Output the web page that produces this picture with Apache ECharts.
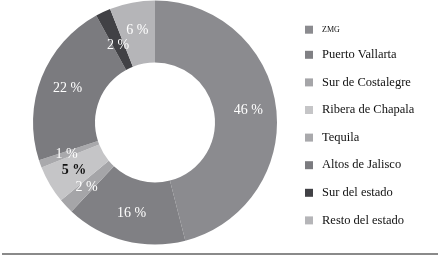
<!DOCTYPE html>
<html>
<head>
<meta charset="utf-8">
<script src="https://cdn.jsdelivr.net/npm/echarts@6/dist/echarts.min.js"></script>
<style>
html,body{margin:0;padding:0;background:#fff;}
#chart{width:440px;height:257px;}
</style>
</head>
<body>
<div id="chart"></div>
<script>
const categories = ['ZMG','Puerto Vallarta','Sur de Costalegre','Ribera de Chapala','Tequila','Altos de Jalisco','Sur del estado','Resto del estado'];
const values = [46, 16, 2, 5, 1, 22, 2, 6];
const colors = ['#8b8b8f','#808084','#a5a5a8','#c5c5c7','#a9a9ac','#7b7b7f','#414145','#b5b5b8'];

const FONT = '"Liberation Serif", "DejaVu Serif", serif';
const data = categories.map((name, i) => {
  const item = { name: name, value: values[i], itemStyle: { color: colors[i] } };
  if (name === 'Ribera de Chapala') {
    item.label = { color: '#111', fontWeight: 'bold' };
  }
  if (name === 'Sur del estado') {
    item.label = { offset: [3, 8] };
  }
  return item;
});

const chart = echarts.init(document.getElementById('chart'), null, { renderer: 'canvas' });
chart.setOption({
  animation: false,
  backgroundColor: '#fff',
  legend: {
    orient: 'vertical',
    left: 300,
    top: 20.7,
    itemWidth: 8,
    itemHeight: 8,
    itemGap: 14.6,
    icon: 'rect',
    selectedMode: false,
    data: categories,
    formatter: function (n) { return n === 'ZMG' ? '{s|ZMG}' : '{n|' + n + '}'; },
    textStyle: {
      fontFamily: FONT,
      color: '#111',
      padding: [0, 0, 0, 4],
      rich: {
        s: { fontFamily: FONT, fontSize: 8, lineHeight: 12, color: '#111' },
        n: { fontFamily: FONT, fontSize: 12.5, lineHeight: 12, color: '#111' }
      }
    }
  },
  graphic: [{
    type: 'line',
    shape: { x1: 2, y1: 254, x2: 438, y2: 254 },
    style: { stroke: '#8a8a8a', lineWidth: 2 },
    silent: true
  }],
  series: [{
    type: 'pie',
    center: [155, 122.5],
    radius: [60, 122],
    startAngle: 90,
    clockwise: true,
    silent: true,
    emphasis: { disabled: true },
    label: {
      show: true,
      position: 'inside',
      formatter: '{c} %',
      color: '#fff',
      fontFamily: FONT,
      fontSize: 14
    },
    labelLine: { show: false },
    data: data
  }]
});
</script>
</body>
</html>
